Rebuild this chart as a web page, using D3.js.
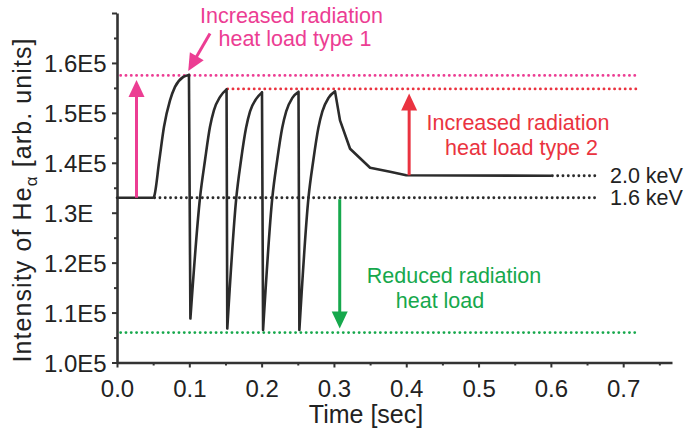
<!DOCTYPE html>
<html>
<head>
<meta charset="utf-8">
<script src="https://cdn.jsdelivr.net/npm/d3@7"></script>
<style>
  body { margin: 0; background: #fff; }
  svg { display: block; font-family: "Liberation Sans", Arial, sans-serif; }
</style>
</head>
<body>
<svg width="689" height="433"></svg>
<script>
"use strict";

// measured trace (time in sec, intensity in arb. units)
var timeSec = [
  0, 0.050, 0.0512, 0.0585, 0.065, 0.0733, 0.0802, 0.0917, 0.0995,
  0.1015, 0.1148, 0.1217, 0.1286, 0.134, 0.1425, 0.1515,
  0.1525, 0.1650, 0.1715, 0.1785, 0.184, 0.1925, 0.2005,
  0.2020, 0.2148, 0.2215, 0.2285, 0.234, 0.2425, 0.2510,
  0.2522, 0.2648, 0.2715, 0.2785, 0.284, 0.2925, 0.3015,
  0.3084, 0.3223, 0.350, 0.3776, 0.400, 0.600
];
var intensity = [
  1.330e5, 1.330e5, 1.332e5, 1.405e5, 1.472e5, 1.525e5, 1.552e5, 1.572e5, 1.576e5,
  1.088e5, 1.330e5, 1.405e5, 1.472e5, 1.505e5, 1.532e5, 1.547e5,
  1.068e5, 1.330e5, 1.405e5, 1.470e5, 1.503e5, 1.528e5, 1.541e5,
  1.065e5, 1.330e5, 1.405e5, 1.470e5, 1.503e5, 1.530e5, 1.542e5,
  1.065e5, 1.330e5, 1.405e5, 1.470e5, 1.503e5, 1.530e5, 1.543e5,
  1.485e5, 1.428e5, 1.390e5, 1.382e5, 1.375e5, 1.374e5
];

// dotted reference levels
var levelValue = [1.575e5, 1.548e5, 1.330e5, 1.374e5, 1.060e5];
var levelStart = [0.005, 0.153, 0.052, 0.602, 0.005];
var levelEnd   = [0.720, 0.720, 0.663, 0.663, 0.716];
var levelKind  = ["type1", "type2", "base", "base", "reduced"];

var kevLabels = ["2.0 keV", "1.6 keV"];
var kevValues = [1.374e5, 1.330e5];

var xTicks = [0, 0.1, 0.2, 0.3, 0.4, 0.5, 0.6, 0.7];
var xTickLabels = ["0.0", "0.1", "0.2", "0.3", "0.4", "0.5", "0.6", "0.7"];
var yTicks = [1.0e5, 1.1e5, 1.2e5, 1.3e5, 1.4e5, 1.5e5, 1.6e5, 1.7e5];
var yTickLabels = ["1.0E5", "1.1E5", "1.2E5", "1.3E", "1.4E5", "1.5E5", "1.6E5", ""];

var colors = { type1: "#ec3d93", type2: "#ea3340", reduced: "#16a84c", base: "#2b2b2b" };

var svg = d3.select("svg");

var x = d3.scaleLinear().domain([0, 0.7675]).range([117, 672]);
var y = d3.scaleLinear().domain([1.0e5, 1.7e5]).range([362.5, 13]);

// minor ticks first
var xMinor = xTicks.map(function(d) { return d + 0.05; });
var yMinor = yTicks.slice(0, -1).map(function(d) { return d + 0.05e5; });

svg.append("g")
    .attr("transform", "translate(0,362.5)")
    .call(d3.axisBottom(x).tickValues(xMinor).tickSize(3).tickFormat(""))
    .call(function(g) { g.select(".domain").remove(); g.selectAll("line").attr("stroke", "#333").attr("stroke-width", 2); });

svg.append("g")
    .attr("transform", "translate(117,0)")
    .call(d3.axisLeft(y).tickValues(yMinor).tickSize(3).tickFormat(""))
    .call(function(g) { g.select(".domain").remove(); g.selectAll("line").attr("stroke", "#333").attr("stroke-width", 2); });

var xAxis = svg.append("g")
    .attr("transform", "translate(0,362.5)")
    .call(d3.axisBottom(x).tickValues(xTicks).tickSizeInner(5).tickSizeOuter(0)
      .tickFormat(function(d, i) { return xTickLabels[i]; }));

xAxis.select(".domain").attr("stroke", "#333").attr("stroke-width", 2.6);
xAxis.selectAll("line").attr("stroke", "#333").attr("stroke-width", 2);
xAxis.selectAll("text")
    .attr("y", 34).attr("dy", null)
    .attr("fill", "#222")
    .style("font-size", "24px")
    .style("font-family", "Liberation Sans, Arial, sans-serif");

var yAxis = svg.append("g")
    .attr("transform", "translate(117,0)")
    .call(d3.axisLeft(y).tickValues(yTicks).tickSizeInner(5).tickSizeOuter(0)
      .tickFormat(function(d, i) { return yTickLabels[i]; }));

yAxis.select(".domain").attr("stroke", "#333").attr("stroke-width", 2.6);
yAxis.selectAll("line").attr("stroke", "#333").attr("stroke-width", 2);
yAxis.selectAll("text")
    .attr("text-anchor", "start")
    .attr("x", -73)
    .attr("dy", "0.36em")
    .attr("fill", "#222")
    .style("font-size", "24px")
    .style("font-family", "Liberation Sans, Arial, sans-serif");

// axis titles
svg.append("text")
    .attr("x", 366).attr("y", 423)
    .attr("text-anchor", "middle")
    .attr("fill", "#222")
    .style("font-size", "25px")
    .text("Time [sec]");

var yTitle = svg.append("text")
    .attr("transform", "translate(31,200) rotate(-90)")
    .attr("text-anchor", "middle")
    .attr("fill", "#222")
    .style("font-size", "25px")
    .style("letter-spacing", "1.1px");
yTitle.append("tspan").text("Intensity of He");
yTitle.append("tspan").attr("dy", 6).style("font-size", "17px").text("\u03b1");
yTitle.append("tspan").attr("dy", -6).text(" [arb. units]");

// dotted levels
svg.append("g").selectAll("line")
    .data(levelValue)
    .enter().append("line")
    .attr("x1", function(d, i) { return x(levelStart[i]); })
    .attr("x2", function(d, i) { return x(levelEnd[i]); })
    .attr("y1", function(d) { return y(d); })
    .attr("y2", function(d) { return y(d); })
    .attr("stroke", function(d, i) { return colors[levelKind[i]]; })
    .attr("stroke-width", 2.8)
    .attr("stroke-linecap", "round")
    .attr("stroke-dasharray", "0.1,5.2");

// trace: rising runs are smoothed, falling runs (drops and the decay) stay straight
var trace = timeSec.map(function(t, i) { return [t, intensity[i]]; });
var pieces = [];
var cur = [trace[0], trace[1]];
var rising = trace[1][1] >= trace[0][1];
for (var i = 2; i < trace.length; i++) {
  var up = trace[i][1] >= trace[i - 1][1];
  if (up !== rising) {
    pieces.push({ rising: rising, pts: cur });
    cur = [trace[i - 1]];
    rising = up;
  }
  cur.push(trace[i]);
}
pieces.push({ rising: rising, pts: cur });

var smooth = d3.line()
    .x(function(d) { return x(d[0]); })
    .y(function(d) { return y(d[1]); })
    .curve(d3.curveMonotoneX);
var straight = d3.line()
    .x(function(d) { return x(d[0]); })
    .y(function(d) { return y(d[1]); });

svg.append("path")
    .attr("fill", "none")
    .attr("stroke", "#2b2b2b")
    .attr("stroke-width", 2.6)
    .attr("stroke-linejoin", "round")
    .attr("stroke-linecap", "round")
    .attr("d", pieces.map(function(p) { return (p.rising ? smooth : straight)(p.pts); }).join(""));

// keV labels
svg.append("g").selectAll("text")
    .data(kevLabels)
    .enter().append("text")
    .attr("x", 610)
    .attr("y", function(d, i) { return y(kevValues[i]) + 7; })
    .attr("fill", "#222")
    .style("font-size", "21.5px")
    .text(function(d) { return d; });

// arrows
var arrows = [
  { kind: "type1", from: [0.027, 1.330e5], to: [0.027, 1.566e5] },
  { kind: "type1", from: [0.1286, 1.659e5], to: [0.0985, 1.584e5] },
  { kind: "type2", from: [0.404, 1.375e5], to: [0.404, 1.539e5] },
  { kind: "reduced", from: [0.308, 1.327e5], to: [0.308, 1.068e5] }
];

arrows.forEach(function(a) {
  var x0 = x(a.from[0]), y0 = y(a.from[1]), x1 = x(a.to[0]), y1 = y(a.to[1]);
  var dx = x1 - x0, dy = y1 - y0, len = Math.sqrt(dx * dx + dy * dy);
  var ux = dx / len, uy = dy / len, head = 17, half = 8;
  var bx = x1 - ux * head, by = y1 - uy * head;
  svg.append("line")
      .attr("x1", x0).attr("y1", y0).attr("x2", bx + ux * 2).attr("y2", by + uy * 2)
      .attr("stroke", colors[a.kind]).attr("stroke-width", 3);
  svg.append("path")
      .attr("d", "M" + x1 + "," + y1 +
                 "L" + (bx - uy * half) + "," + (by + ux * half) +
                 "L" + (bx + uy * half) + "," + (by - ux * half) + "Z")
      .attr("fill", colors[a.kind]);
});

// annotation text
var notes = [
  { kind: "type1", lines: ["Increased radiation", "heat load type 1"], x: [291.5, 295], y: [22.7, 46] },
  { kind: "type2", lines: ["Increased radiation", "heat load type 2"], x: [518, 521.5], y: [130, 155] },
  { kind: "reduced", lines: ["Reduced radiation", "heat load"], x: [454, 440], y: [283.3, 308.3] }
];

notes.forEach(function(n) {
  n.lines.forEach(function(l, i) {
    svg.append("text")
        .attr("x", n.x[i]).attr("y", n.y[i])
        .attr("text-anchor", "middle")
        .attr("fill", colors[n.kind])
        .style("font-size", "21.5px")
        .text(l);
  });
});
</script>
</body>
</html>
